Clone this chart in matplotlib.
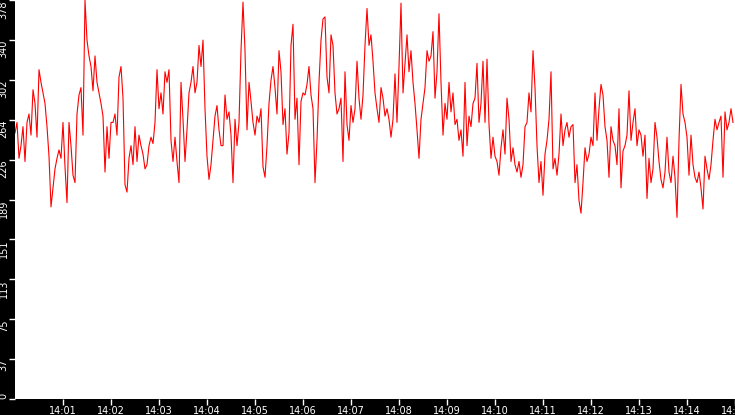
import matplotlib
matplotlib.use("Agg")
import matplotlib.pyplot as plt
import matplotlib.dates as mdates
import pandas as pd

# samples every 2.5 s from 14:00:00 to 14:15:00
start_time = "2024-01-01 14:00:00"
sample_step = "2500ms"

values = [
    # 14:00 - 14:01:52
    252, 262, 228, 240, 258, 225, 262, 270, 250, 293, 280, 248, 312, 300, 290,
    280, 258, 230, 182, 200, 218, 228, 236, 228, 262, 220, 186, 262, 240, 212,
    205, 270, 288, 295, 250, 378, 340, 325, 315, 292, 325, 300, 290, 280, 268,
    # 14:01:52 - 14:03:45
    215, 258, 228, 262, 262, 270, 250, 305, 315, 285, 203, 196, 228, 240, 222,
    258, 225, 250, 240, 232, 218, 222, 240, 248, 242, 262, 312, 275, 290, 270,
    310, 300, 312, 245, 225, 248, 225, 205, 300, 265, 225, 255, 290, 300, 315,
    # 14:03:45 - 14:05:37
    290, 300, 335, 315, 340, 275, 230, 208, 222, 245, 268, 278, 255, 240, 240,
    288, 265, 272, 250, 205, 265, 240, 262, 330, 376, 330, 255, 300, 282, 262,
    250, 268, 262, 275, 220, 210, 240, 280, 302, 315, 295, 270, 330, 310, 260,
    # 14:05:37 - 14:07:30
    275, 232, 252, 335, 355, 265, 285, 222, 282, 290, 288, 298, 315, 288, 275,
    205, 245, 300, 340, 360, 362, 305, 290, 345, 335, 290, 270, 275, 285, 225,
    310, 260, 245, 278, 262, 275, 320, 285, 265, 288, 335, 370, 335, 345, 320,
    # 14:07:30 - 14:09:22
    290, 275, 262, 295, 285, 268, 275, 265, 248, 265, 308, 262, 315, 375, 290,
    318, 345, 310, 330, 300, 280, 255, 228, 265, 280, 295, 330, 320, 325, 348,
    285, 310, 365, 300, 250, 280, 265, 300, 272, 290, 260, 265, 245, 255, 230,
    # 14:09:22 - 14:11:15
    300, 240, 268, 258, 280, 285, 318, 262, 280, 320, 262, 322, 260, 228, 248,
    230, 225, 212, 238, 255, 232, 285, 265, 225, 238, 222, 215, 225, 210, 222,
    258, 262, 290, 272, 330, 295, 240, 205, 225, 193, 232, 245, 265, 310, 218,
    # 14:11:15 - 14:13:07
    228, 212, 232, 270, 240, 255, 262, 248, 258, 260, 205, 222, 188, 176, 205,
    238, 225, 232, 248, 240, 290, 245, 275, 298, 288, 258, 245, 210, 258, 245,
    240, 222, 275, 200, 235, 240, 250, 292, 245, 262, 275, 240, 255, 250, 230,
    # 14:13:07 - 14:15:00
    250, 190, 228, 205, 218, 262, 248, 225, 208, 200, 215, 248, 215, 205, 230,
    210, 172, 245, 298, 270, 262, 248, 212, 250, 222, 210, 205, 215, 200, 180,
    230, 218, 208, 222, 245, 265, 255, 262, 268, 210, 272, 255, 262, 275, 262,
]

y_ticks = [0, 37.8, 75.6, 113.4, 151.2, 189.0, 226.8, 264.6, 302.4, 340.2, 378]
y_max = 378

times = pd.date_range(start_time, periods=len(values), freq=sample_step)
x_start = pd.Timestamp(start_time)
x_end = x_start + pd.Timedelta(minutes=15)

fig = plt.figure(figsize=(7.35, 4.15), dpi=100, facecolor="black")
ax = fig.add_axes([15 / 735, 16 / 415, 720 / 735, 399 / 415])
ax.set_facecolor("white")

ax.plot(times, values, color="red", linewidth=0.8)

ax.set_xlim(x_start, x_end)
ax.set_ylim(0, y_max)

for side in ["top", "right", "left", "bottom"]:
    ax.spines[side].set_visible(False)

# no label at 14:00 (left edge)
ax.xaxis.set_major_locator(mdates.MinuteLocator(byminute=range(1, 60)))
ax.xaxis.set_major_formatter(mdates.DateFormatter("%H:%M"))
ax.tick_params(axis="x", colors="white", labelsize=7, length=4, width=1, pad=1.2)

ax.set_yticks(y_ticks)
ax.set_yticklabels([str(int(v)) for v in y_ticks], rotation=90)
ax.tick_params(axis="y", colors="white", labelsize=7, length=4, width=1, pad=0.5)
for lbl in ax.get_yticklabels():
    lbl.set_ha("right")
    lbl.set_va("bottom" if lbl.get_text() == "0" else "top")

fig.savefig("out.png", dpi=100, facecolor="black")
